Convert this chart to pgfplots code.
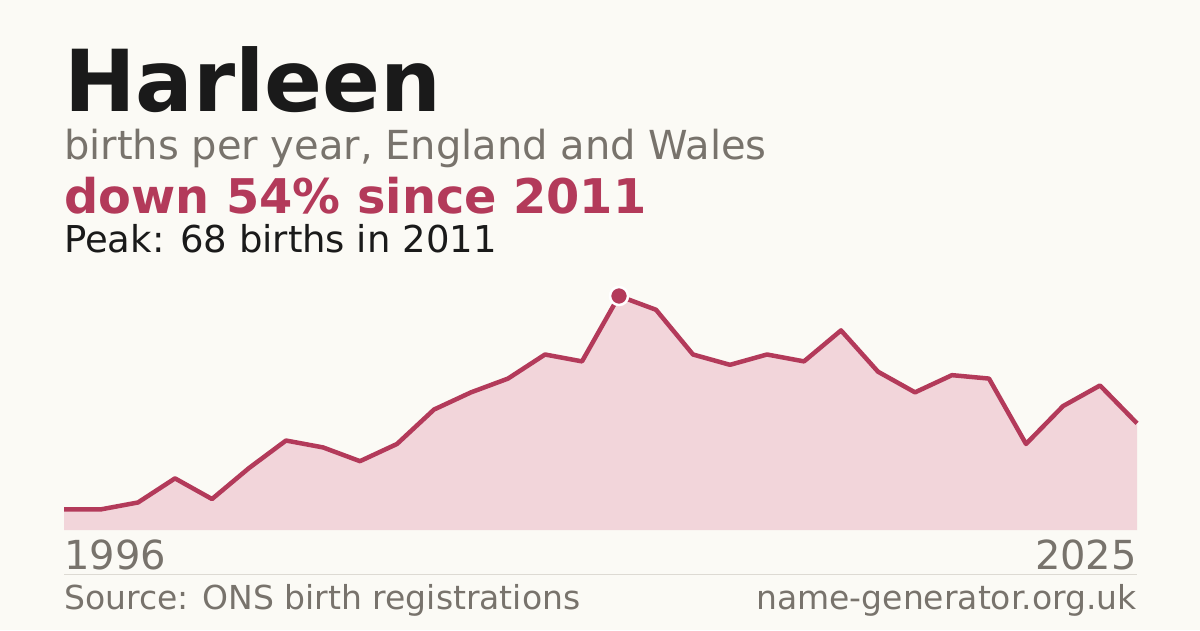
\documentclass[border=0pt]{standalone}
\usepackage{fontspec}
\setmainfont{DejaVu Sans}
\usepackage{pgfplots}
\usepackage{pgfplotstable}
\pgfplotsset{compat=1.18}

\definecolor{bg}{HTML}{FBFAF5}
\definecolor{ink}{HTML}{1A1A1A}
\definecolor{muted}{HTML}{78736C}
\definecolor{accent}{HTML}{B33A5A}
\definecolor{fillpink}{HTML}{F2D5DA}
\definecolor{rulegrey}{HTML}{DDDAD3}

% births per year, Harleen
\pgfplotstableread{
year births
1996 6
1997 6
1998 8
1999 15
2000 9
2001 18
2002 26
2003 24
2004 20
2005 25
2006 35
2007 40
2008 44
2009 51
2010 49
2011 68
2012 64
2013 51
2014 48
2015 51
2016 49
2017 58
2018 46
2019 40
2020 45
2021 44
2022 25
2023 36
2024 42
2025 31
}\births

\begin{document}
\begin{tikzpicture}[x=1pt,y=1pt]
\fill[bg] (0,0) rectangle (1200,630);

\node[anchor=base west, inner sep=0, text=ink, font=\fontsize{85.5}{85.5}\selectfont\bfseries] at (64,518.3) {Harleen};
\node[anchor=base west, inner sep=0, text=muted, font=\fontsize{40}{40}\selectfont] at (64,470.7) {births per year, England and Wales};
\node[anchor=base west, inner sep=0, text=accent, font=\fontsize{47.8}{47.8}\selectfont\bfseries] at (64,416) {down 54\% since 2011};
\node[anchor=base west, inner sep=0, text=ink, font=\fontsize{37}{37}\selectfont] at (64,377.3) {Peak: 68 births in 2011};

\begin{axis}[
    at={(64pt,100pt)}, anchor=south west,
    width=1073pt, height=234pt, scale only axis,
    xmin=1996, xmax=2025, ymin=0, ymax=68,
    hide axis, clip=false,
  ]
  \addplot[fill=fillpink, draw=none] table[x=year, y=births] {\births} \closedcycle;
  \addplot[accent, line width=4.5pt, line join=round] table[x=year, y=births] {\births};
  \addplot[only marks, mark=*, mark size=9pt,
    mark options={fill=accent, draw=white, line width=2.5pt}] coordinates {(2011,68)};
\end{axis}

\node[anchor=base west, inner sep=0, text=muted, font=\fontsize{40}{40}\selectfont] at (64,60.7) {1996};
\node[anchor=base east, inner sep=0, text=muted, font=\fontsize{40}{40}\selectfont] at (1137,60.7) {2025};
\draw[rulegrey, line width=1pt] (64,56) -- (1137,56);
\node[anchor=base west, inner sep=0, text=muted, font=\fontsize{33}{33}\selectfont] at (64,20.7) {Source: ONS birth registrations};
\node[anchor=base east, inner sep=0, text=muted, font=\fontsize{33}{33}\selectfont] at (1137,20.7) {name-generator.org.uk};
\end{tikzpicture}
\end{document}
